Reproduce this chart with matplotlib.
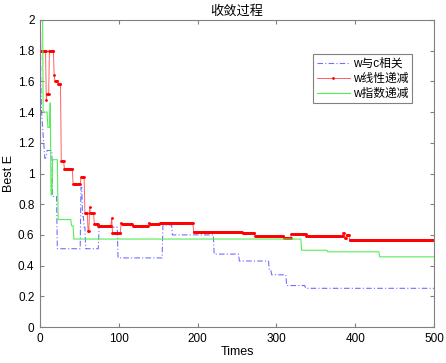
import numpy as np
import matplotlib
matplotlib.use("Agg")
import matplotlib.pyplot as plt
from matplotlib.ticker import FormatStrFormatter

plt.rcParams['font.family'] = ['Liberation Sans', 'Noto Sans CJK SC', 'DejaVu Sans']

title = "收敛过程"
xlabel = "Times"
ylabel = "Best E"
labels = ["w与c相关", "w线性递减", "w指数递减"]

# step series: iteration where a new best value starts, and that value
blue_x = [0, 1, 2, 3, 4, 5, 6, 8, 9, 16, 22, 52, 54, 56, 58, 75, 99, 156, 168, 221, 253, 291, 294, 313, 337]
blue_y = [2.3, 1.6, 1.4, 1.32, 1.25, 1.18, 1.1, 1.12, 1.15, 0.85, 0.51, 0.91, 0.72, 0.65, 0.51, 0.65, 0.45, 0.665, 0.60, 0.475, 0.43, 0.37, 0.34, 0.27, 0.252]

red_x = [0, 1, 8, 9, 12, 18, 19, 23, 27, 31, 42, 52, 57, 61, 63, 64, 69, 74, 91, 92, 103, 104, 118, 138, 139, 152, 195, 257, 273, 310, 319, 338, 385, 387, 389, 393, 409]
red_y = [2.3, 1.8, 1.48, 1.52, 1.8, 1.64, 1.6, 1.58, 1.08, 1.03, 0.93, 0.975, 0.74, 0.625, 0.78, 0.74, 0.67, 0.66, 0.71, 0.615, 0.68, 0.67, 0.66, 0.68, 0.67, 0.675, 0.62, 0.615, 0.59, 0.58, 0.605, 0.59, 0.61, 0.58, 0.6, 0.565, 0.57]

green_x = [0, 4, 10, 13, 14, 16, 23, 40, 43, 332, 365, 431]
green_y = [2.3, 1.4, 1.3, 1.46, 0.86, 1.09, 0.70, 0.66, 0.573, 0.50, 0.49, 0.457]

n_iter = 500
it = np.arange(0, n_iter + 1)

def step_lookup(bx, by):
    idx = np.searchsorted(np.asarray(bx), it, side='right') - 1
    return np.asarray(by)[idx]

fig = plt.figure(figsize=(4.46, 3.63), dpi=100)
ax = fig.add_axes([40/446, 1 - 327/363, 394/446, 307/363])

ax.plot(it, step_lookup(blue_x, blue_y), color='#7070ff', lw=0.8,
        linestyle=(0, (5, 2, 1, 2)), label=labels[0])
ax.plot(it, step_lookup(red_x, red_y), color='#ff6060', lw=0.7,
        marker='.', markersize=2, markerfacecolor='#ff0000',
        markeredgecolor='#ff0000', label=labels[1])
ax.plot(it, step_lookup(green_x, green_y), color='#55ee55', lw=0.8, label=labels[2])

ax.set_xlim(0, 500)
ax.set_ylim(0, 2)
ax.set_xticks(np.arange(0, 501, 100))
ax.set_yticks(np.arange(0, 2.01, 0.2))
ax.yaxis.set_major_formatter(FormatStrFormatter('%g'))
ax.tick_params(direction='in', length=3, top=True, right=True, labelsize=8.5,
               color='#808080', pad=4)
for s in ax.spines.values():
    s.set_color('#808080')
    s.set_linewidth(0.8)

ax.set_title(title, fontsize=9.5, pad=4, family=['Noto Sans CJK SC'])
ax.set_xlabel(xlabel, fontsize=9, labelpad=1)
ax.set_ylabel(ylabel, fontsize=9, labelpad=2)

leg = ax.legend(loc='upper left', bbox_to_anchor=(0.693, 0.888), fontsize=8.5,
                fancybox=False, framealpha=1, edgecolor='#808080',
                handlelength=2.8, borderpad=0.3, labelspacing=0.25,
                handletextpad=0.3, borderaxespad=0)
leg.get_frame().set_linewidth(0.8)

fig.savefig("out.png", dpi=100)
